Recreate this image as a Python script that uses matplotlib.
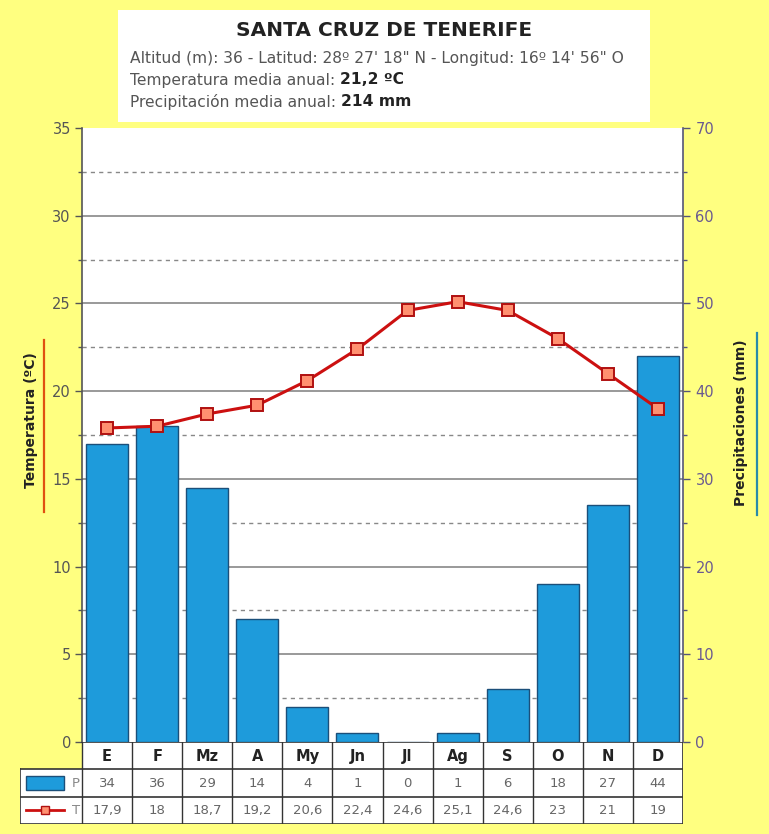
import matplotlib
matplotlib.use("Agg")
import matplotlib.pyplot as plt
from matplotlib.patches import Rectangle
from matplotlib.lines import Line2D
import numpy as np

months = ["E", "F", "Mz", "A", "My", "Jn", "Jl", "Ag", "S", "O", "N", "D"]
precip = [34, 36, 29, 14, 4, 1, 0, 1, 6, 18, 27, 44]
temp = [17.9, 18, 18.7, 19.2, 20.6, 22.4, 24.6, 25.1, 24.6, 23, 21, 19]
precip_labels = ["34", "36", "29", "14", "4", "1", "0", "1", "6", "18", "27", "44"]
temp_labels = ["17,9", "18", "18,7", "19,2", "20,6", "22,4", "24,6", "25,1", "24,6", "23", "21", "19"]
temp_ticks = [0, 5, 10, 15, 20, 25, 30, 35]
precip_ticks = [0, 10, 20, 30, 40, 50, 60, 70]

title = "SANTA CRUZ DE TENERIFE"
line1 = "Altitud (m): 36 - Latitud: 28º 27' 18\" N - Longitud: 16º 14' 56\" O"
line2a, line2b = "Temperatura media anual: ", "21,2 ºC"
line3a, line3b = "Precipitación media anual: ", "214 mm"

W, H = 769, 834
BG = "#FFFF80"
BAR = "#1E9BDB"
BAREDGE = "#1B4F7A"
RED = "#CC1010"

fig = plt.figure(figsize=(W / 100, H / 100), dpi=100, facecolor=BG)

def fx(px):
    return px / W

def fy(py):
    return 1 - py / H

SUB = 11.2
# title box
fig.patches.append(Rectangle((fx(118), fy(122)), fx(650) - fx(118), fy(10) - fy(122),
                             transform=fig.transFigure, facecolor="white", edgecolor="none", zorder=0))
fig.text(fx(384), fy(31), title, ha="center", va="center", fontsize=14.5, fontweight="bold", color="#222222")
fig.text(fx(130), fy(58), line1, ha="left", va="center", fontsize=SUB, color="#555555")
t2 = fig.text(fx(130), fy(80), line2a, ha="left", va="center", fontsize=SUB, color="#555555")
t3 = fig.text(fx(130), fy(102), line3a, ha="left", va="center", fontsize=SUB, color="#555555")
fig.canvas.draw()
r = fig.canvas.get_renderer()
bb2 = t2.get_window_extent(r)
bb3 = t3.get_window_extent(r)
fig.text(bb2.x1 / W, fy(80), line2b, ha="left", va="center", fontsize=SUB, fontweight="bold", color="#222222")
fig.text(bb3.x1 / W, fy(102), line3b, ha="left", va="center", fontsize=SUB, fontweight="bold", color="#222222")

# main axes
L, R, T, B = 82, 683, 128, 742
ax = fig.add_axes([fx(L), fy(B), fx(R) - fx(L), fy(T) - fy(B)])
ax.set_facecolor("white")
x = np.arange(len(months))
ax.set_xlim(-0.5, 11.5)
ax.set_ylim(0, 35)
for v in [5, 10, 15, 20, 25, 30]:
    ax.axhline(v, color="#999999", lw=1.4, zorder=1)
for v in [2.5, 7.5, 12.5, 17.5, 22.5, 27.5, 32.5]:
    ax.axhline(v, color="#888888", lw=1.0, ls=(0, (3, 3)), zorder=1)
ax.set_xticks([])
ax.set_yticks(temp_ticks)
ax.set_yticks(np.arange(2.5, 35, 5), minor=True)
ax.tick_params(axis="y", which="major", length=5, width=1, color="#555555", labelcolor="#555555", labelsize=10.5, pad=3)
ax.tick_params(axis="y", which="minor", length=3, width=1, color="#555555")
for s in ["top", "bottom"]:
    ax.spines[s].set_visible(False)
ax.spines["left"].set_color("#555555")
ax.spines["left"].set_linewidth(1.2)
ax.spines["right"].set_visible(False)

ax2 = ax.twinx()
ax2.set_ylim(0, 70)
ax2.bar(x, precip, width=0.84, color=BAR, edgecolor=BAREDGE, linewidth=1.0, zorder=2)
ax2.set_yticks(precip_ticks)
ax2.set_yticks(np.arange(5, 70, 10), minor=True)
ax2.tick_params(axis="y", which="major", length=5, width=1, color="#555577", labelcolor="#6A5A90", labelsize=10.5, pad=4)
ax2.tick_params(axis="y", which="minor", length=3, width=1, color="#555577")
for s in ["top", "bottom", "left"]:
    ax2.spines[s].set_visible(False)
ax2.spines["right"].set_color("#555577")
ax2.spines["right"].set_linewidth(1.2)

ax3 = ax.twinx()
ax3.set_ylim(0, 35)
ax3.axis("off")
ax3.plot(x, temp, color=RED, lw=2.2, marker="s", markersize=8.5, markerfacecolor="#FF9070",
         markeredgecolor="#B01010", markeredgewidth=1.4, zorder=5)

# axis labels
fig.text(fx(31), fy(420), "Temperatura (ºC)", rotation=90, ha="center", va="center",
         fontsize=10, fontweight="bold", color="#222222")
fig.add_artist(Line2D([fx(44), fx(44)], [fy(512), fy(340)], color="#E05010", lw=1.6))
fig.text(fx(741), fy(423), "Precipitaciones (mm)", rotation=90, ha="center", va="center",
         fontsize=10, fontweight="bold", color="#222222")
fig.add_artist(Line2D([fx(757), fx(757)], [fy(515), fy(333)], color="#2A8AAA", lw=1.6))

# table
TL, TB, TT = 20, 824, 742
slot = (R - L) / 12.0
tax = fig.add_axes([fx(TL), fy(TB), fx(R) - fx(TL), fy(TT) - fy(TB)])
x0 = -0.5 - (L - TL) / slot
tax.set_xlim(x0, 11.5)
tax.set_ylim(0, 3)
tax.invert_yaxis()
tax.axis("off")
tax.add_patch(Rectangle((-0.5, 0), 12, 3, facecolor="white", edgecolor="none", zorder=0))
tax.add_patch(Rectangle((x0, 1), -0.5 - x0, 2, facecolor="white", edgecolor="none", zorder=0))
lc = "#333333"
tax.plot([-0.5, 11.5], [0, 0], color=lc, lw=1.2)
for yy in [1, 2, 3]:
    tax.plot([x0, 11.5], [yy, yy], color=lc, lw=1.2)
for xx in np.arange(-0.5, 12.0, 1.0):
    tax.plot([xx, xx], [0, 3], color=lc, lw=1.0)
tax.plot([x0, x0], [1, 3], color=lc, lw=1.2)
tax.plot([11.5, 11.5], [0, 3], color=lc, lw=1.2)
for i, m in enumerate(months):
    tax.text(i, 0.52, m, ha="center", va="center", fontsize=10.5, fontweight="bold", color="#222222")
    tax.text(i, 1.52, precip_labels[i], ha="center", va="center", fontsize=9.5, color="#666666")
    tax.text(i, 2.52, temp_labels[i], ha="center", va="center", fontsize=9.5, color="#666666")
# legend symbols
tax.add_patch(Rectangle((x0 + 0.12, 1.25), 0.75, 0.5, facecolor=BAR, edgecolor=BAREDGE, lw=1.0))
tax.text(-0.62, 1.52, "P", ha="center", va="center", fontsize=9.5, color="#888888")
tax.plot([x0 + 0.12, x0 + 0.87], [2.5, 2.5], color=RED, lw=2.0)
tax.plot([x0 + 0.5], [2.5], marker="s", markersize=6, markerfacecolor="#FF9070", markeredgecolor="#B01010", color=RED)
tax.text(-0.62, 2.52, "T", ha="center", va="center", fontsize=9.5, color="#888888")

fig.savefig("out.png", dpi=100, facecolor=BG)
